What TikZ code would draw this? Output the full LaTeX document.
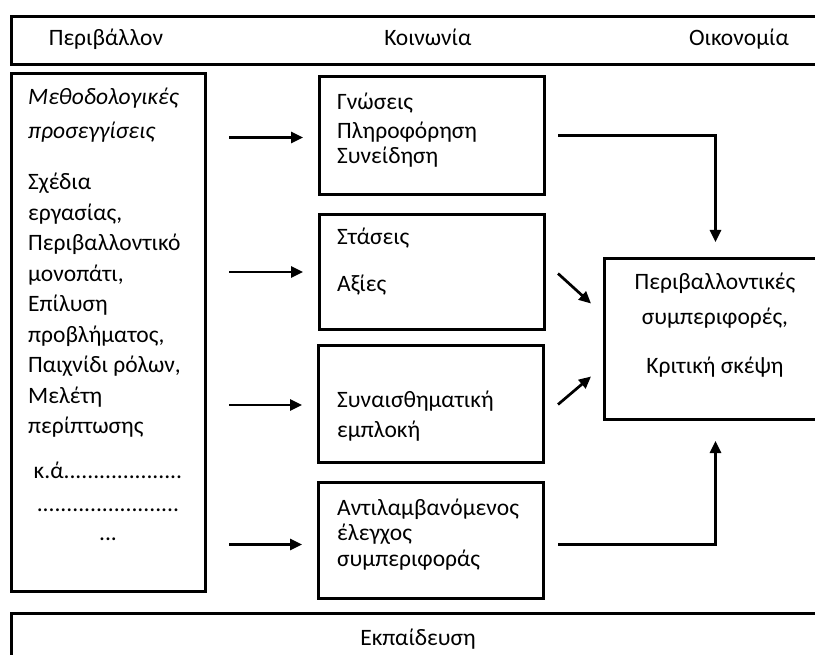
\documentclass[tikz,border=0pt]{standalone}
\usepackage{fontspec}
\setmainfont{Carlito}
\usetikzlibrary{positioning, arrows.meta, calc}

\begin{document}
\begin{tikzpicture}[x=1pt, y=-1pt,
    box/.style={draw=black, line width=3pt, inner sep=0pt, anchor=north west},
    txt/.style={font=\fontsize{23.5}{30.5}\selectfont, inner sep=0pt, align=left, anchor=north west},
    arr/.style={-{Triangle[length=12pt, width=11pt]}, line width=2.7pt}]
      \useasboundingbox (0,0) rectangle (815,655);
      \clip (0,0) rectangle (815,655);

      % Top band
      \node[box, minimum width=830pt, minimum height=48pt] (band) at (10,15) {};
      \node[txt, anchor=base] (env) at (106,46) {Περιβάλλον};
      \node[txt, anchor=base] (soc) at (428,46) {Κοινωνία};
      \node[txt, anchor=base] (eco) at (739,46) {Οικονομία};

      % Methods column (left)
      \node[box, minimum width=194pt, minimum height=518pt] (meth) at (10,72) {};
      \node[txt] (methtxt) at (28,88)
        {\textit{Μεθοδολογικές}\\[3pt] \textit{προσεγγίσεις}\\[21pt]
         Σχέδια\\ εργασίας,\\ Περιβαλλοντικό\\ μονοπάτι,\\ Επίλυση\\
         προβλήματος,\\ Παιχνίδι ρόλων,\\ Μελέτη\\ περίπτωσης};
      \node[txt, align=center, anchor=north] (etc) at (108,462)
        {κ.ά....................\\[2pt] ........................\\[-1pt] ...};

      % Factor boxes (middle)
      \node[box, minimum width=225pt, minimum height=118pt] (gn) at (318,75) {};
      \node[txt] (gntxt) at (337,93) {Γνώσεις\\[-2pt] Πληροφόρηση\\[-5pt] Συνείδηση};
      \node[box, minimum width=225pt, minimum height=115pt] (st) at (318,213) {};
      \node[txt] (sttxt) at (337,228) {Στάσεις\\[16pt] Αξίες};
      \node[box, minimum width=225pt, minimum height=117pt] (emo) at (317,344) {};
      \node[txt] (emotxt) at (337,391) {Συναισθηματική\\[-1pt] εμπλοκή};
      \node[box, minimum width=225pt, minimum height=116pt] (ctl) at (317,481) {};
      \node[txt] (ctltxt) at (337,499) {Αντιλαμβανόμενος\\[-6pt] έλεγχος\\[-4pt] συμπεριφοράς};

      % Outcome box (right)
      \node[box, minimum width=222pt, minimum height=161pt] (out) at (603,257) {};
      \node[txt, align=center, anchor=north] (outtxt) at (715,273)
        {Περιβαλλοντικές\\[4pt] συμπεριφορές,\\[19pt] Κριτική σκέψη};

      % Bottom band
      \node[box, minimum width=830pt, minimum height=60pt] (edu) at (10,612) {};
      \node[txt, anchor=base] (edutxt) at (418,645) {Εκπαίδευση};

      % Arrows from methods to factors
      \foreach \b/\dy in {gn/-2, st/0, emo/-1, ctl/-4} {
        \draw[arr, shorten <=22pt, shorten >=15pt]
          ([yshift=\dy pt]meth.east |- \b.west) -- ([yshift=\dy pt]\b.west);
      }

      % Arrows from factors to outcome
      \draw[arr, shorten <=12pt, shorten >=15pt] (gn.east) -| (out.north);
      \draw[arr, shorten <=13pt, shorten >=20pt] ([yshift=-4pt]ctl.east) -| (out.south);
      \draw[arr] ($(st.east)+(12,1.5)$) -- ($(out.west)+(-12,-35.5)$);
      \draw[arr] ($(emo.east)+(13,0.5)$) -- ($(out.west)+(-12,37.5)$);
    \end{tikzpicture}
\end{document}
